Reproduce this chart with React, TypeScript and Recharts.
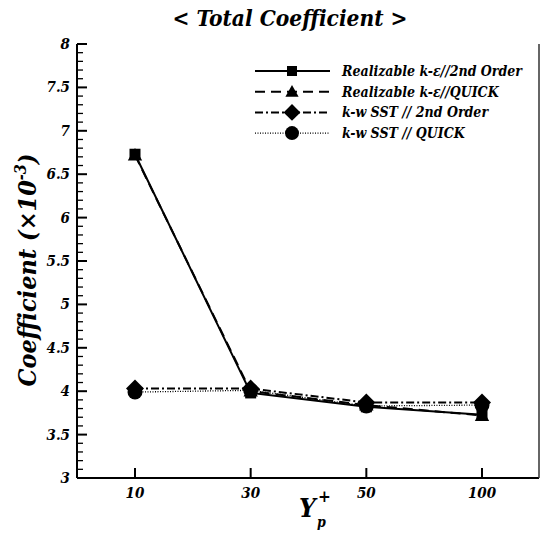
import React from 'react';
import { LineChart, Line, XAxis, YAxis } from 'recharts';

const yPlus = ['10', '30', '50', '100'];
const realizable2nd = [6.73, 3.98, 3.82, 3.73];
const realizableQuick = [6.72, 4.0, 3.84, 3.72];
const sst2nd = [4.03, 4.03, 3.87, 3.87];
const sstQuick = [3.99, 4.01, 3.83, 3.84];

const FONT = "'DejaVu Serif Condensed', 'DejaVu Serif', serif";
const txt: React.CSSProperties = { fontFamily: FONT, fontWeight: 'bold', fontStyle: 'italic' };

const data = yPlus.map((y, i) => ({
  yplus: y,
  r2: realizable2nd[i],
  rq: realizableQuick[i],
  s2: sst2nd[i],
  sq: sstQuick[i],
}));

// minor ticks every 0.1, labels only on the 0.5 steps
const yTicks: number[] = [];
for (let i = 0; i <= 50; i++) yTicks.push(Math.round((3 + i * 0.1) * 10) / 10);

type Marker = 'square' | 'triangle' | 'diamond' | 'circle';

const drawMarker = (kind: Marker, cx: number, cy: number, s: number, key?: any) => {
  if (kind === 'square') return <rect key={key} x={cx - s / 2} y={cy - s / 2} width={s} height={s} fill="#000" />;
  if (kind === 'triangle')
    return <polygon key={key} points={`${cx},${cy - s * 0.6} ${cx + s * 0.6},${cy + s * 0.45} ${cx - s * 0.6},${cy + s * 0.45}`} fill="#000" />;
  if (kind === 'diamond')
    return <polygon key={key} points={`${cx},${cy - s * 0.6} ${cx + s * 0.6},${cy} ${cx},${cy + s * 0.6} ${cx - s * 0.6},${cy}`} fill="#000" />;
  return <circle key={key} cx={cx} cy={cy} r={s / 2} fill="#000" />;
};

const series = [
  { key: 'r2', name: 'Realizable k-\u03B5//2nd Order', dash: undefined, width: 2, marker: 'square' as Marker, size: 11 },
  { key: 'rq', name: 'Realizable k-\u03B5//QUICK', dash: '10 6', width: 2, marker: 'triangle' as Marker, size: 12 },
  { key: 's2', name: 'k-w SST // 2nd Order', dash: '8 3 2 3', width: 2, marker: 'diamond' as Marker, size: 15 },
  { key: 'sq', name: 'k-w SST // QUICK', dash: '1 1.5', width: 1.3, marker: 'circle' as Marker, size: 15 },
];

const YTick = (props: any) => {
  const { x, y, payload } = props;
  const v = payload.value as number;
  const major = Math.abs(v * 2 - Math.round(v * 2)) < 1e-6;
  return (
    <g>
      <line x1={x} x2={x + (major ? 10 : 6)} y1={y} y2={y} stroke="#000" strokeWidth={major ? 2 : 1.3} />
      {major && (
        <text x={x - 7} y={y + 5} textAnchor="end" style={{ ...txt, fontSize: 15 }} fill="#000">
          {String(v)}
        </text>
      )}
    </g>
  );
};

const XTick = (props: any) => {
  const { x, y, payload } = props;
  return (
    <g>
      <line x1={x} x2={x} y1={y} y2={y - 10} stroke="#000" strokeWidth={2} />
      <text x={x} y={y + 20} textAnchor="middle" style={{ ...txt, fontSize: 15 }} fill="#000">
        {payload.value}
      </text>
    </g>
  );
};

export default function App() {
  return (
    <div style={{ position: 'absolute', left: 0, top: 0, width: 543, height: 533, background: '#fff' }}>
      <LineChart width={543} height={533} data={data} margin={{ top: 44, right: 3, bottom: 0, left: 0 }}>
        <XAxis
          dataKey="yplus"
          type="category"
          height={55}
          padding={{ left: 58, right: 57 }}
          tickSize={0}
          tickMargin={0}
          tickLine={false}
          tick={<XTick />}
          axisLine={{ stroke: '#000', strokeWidth: 2 }}
        />
        <XAxis xAxisId="top" orientation="top" dataKey="yplus" height={0} tick={false} tickLine={false} axisLine={{ stroke: '#000', strokeWidth: 2 }} />
        <YAxis
          type="number"
          domain={[3, 8]}
          ticks={yTicks}
          interval={0}
          width={77}
          tickSize={0}
          tickMargin={0}
          tickLine={false}
          tick={<YTick />}
          axisLine={{ stroke: '#000', strokeWidth: 2 }}
          allowDataOverflow
        />
        <YAxis yAxisId="right" orientation="right" width={1} tick={false} tickLine={false} axisLine={{ stroke: '#333', strokeWidth: 1.5 }} />
        {series.map((s) => (
          <Line
            key={s.key}
            dataKey={s.key}
            name={s.name}
            type="linear"
            stroke="#000"
            strokeWidth={s.width}
            strokeDasharray={s.dash}
            isAnimationActive={false}
            dot={(p: any) => drawMarker(s.marker, p.cx, p.cy, s.size, `${s.key}-${p.index}`)}
            activeDot={false}
          />
        ))}
      </LineChart>
      <svg width={543} height={533} style={{ position: 'absolute', left: 0, top: 0, pointerEvents: 'none' }}>
        <text x={290} y={26} textAnchor="middle" style={{ ...txt, fontSize: 22.5 }} fill="#000">
          {'< Total Coefficient >'}
        </text>
        <text transform="translate(36,270) rotate(-90)" textAnchor="middle" style={{ ...txt, fontSize: 25 }} fill="#000">
          Coefficient (×10<tspan dy={-10} style={{ fontSize: 16 }}>-3</tspan><tspan dy={10}>)</tspan>
        </text>
        <text x={299} y={517} style={{ ...txt, fontSize: 26 }} fill="#000">Y</text>
        <text x={318} y={502} style={{ ...txt, fontSize: 17 }} fill="#000">+</text>
        <text x={317} y={527} style={{ ...txt, fontSize: 14 }} fill="#000">p</text>
        {series.map((s, i) => {
          const y = 71 + i * 20.7;
          return (
            <g key={s.key}>
              <line x1={255} x2={330} y1={y} y2={y} stroke="#000" strokeWidth={s.width} strokeDasharray={s.dash} />
              {drawMarker(s.marker, 292, y, s.size - 1)}
              <text x={342} y={y + 5} style={{ ...txt, fontSize: 14 }} fill="#000">
                {s.name}
              </text>
            </g>
          );
        })}
      </svg>
    </div>
  );
}
